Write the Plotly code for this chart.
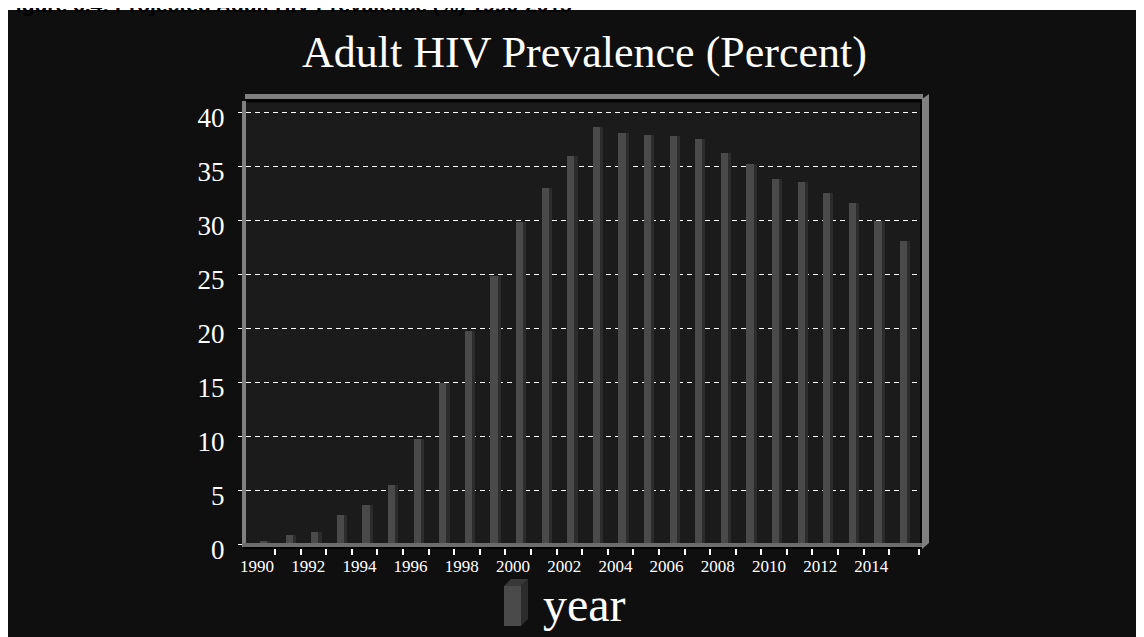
import plotly.graph_objects as go

# ---- data ----
years = list(range(1990, 2016))
prevalence = [0.3, 0.8, 1.1, 2.7, 3.6, 5.5, 9.7, 14.9, 19.7, 24.8,
              29.8, 33.0, 35.9, 38.6, 38.1, 37.9, 37.8, 37.5, 36.2, 35.2,
              33.8, 33.5, 32.5, 31.6, 29.9, 28.1]
tick_years = list(range(1990, 2015, 2))
tick_labels = [str(y) for y in tick_years]
y_ticks = [0, 5, 10, 15, 20, 25, 30, 35, 40]
chart_title = "Adult HIV Prevalence (Percent)"
page_caption = "Figure 6.4: Projected Adult HIV Prevalence (%) 1990-2015"
legend_label = "year"

# ---- geometry (page pixels; the page body has an 8px margin) ----
OFF = 8
W, H = 1144 - OFF, 637 - OFF
L, R, T, B = 246, 920, 103, 544  # plot area in page pixels


def px(x):
    return (x - L) / (R - L)


def py(y):
    return (B - y) / (B - T)


face_color = "#4a4a4a"
side_color = "#2c2c2c"
frame_color = "#808080"

fig = go.Figure()
fig.add_trace(go.Bar(x=years, y=prevalence, width=0.28, offset=0.12,
                     marker=dict(color=face_color, line=dict(width=0)),
                     showlegend=False, hoverinfo="x+y"))
fig.add_trace(go.Bar(x=years, y=prevalence, width=0.12, offset=0.40,
                     marker=dict(color=side_color, line=dict(width=0)),
                     showlegend=False, hoverinfo="skip"))


def rect(x0, x1, y0, y1, color):
    return dict(type="rect", xref="paper", yref="paper", x0=px(x0), x1=px(x1), y0=py(y0), y1=py(y1),
                fillcolor=color, line=dict(width=0), layer="above")


def poly(pts, color):
    path = "M " + " L ".join(f"{px(a)} {py(b)}" for a, b in pts) + " Z"
    return dict(type="path", xref="paper", yref="paper", path=path,
                fillcolor=color, line=dict(width=0), layer="above")


shapes = [
    # white page strip at the top
    rect(0, 1144, OFF, 10, "white"),
    # frame: left wall edge
    rect(242, 246, 101, 547, frame_color),
    # top edge
    rect(245, 923, 94, 99, frame_color),
    rect(246, 921, 99, 102, "#050505"),
    # right edge
    rect(920, 922, 101, 547, "#050505"),
    poly([(922, 99), (929, 94), (929, 543), (922, 549)], frame_color),
    # floor
    rect(243, 922, 543, 547, "#6c6c6c"),
    rect(243, 922, 547, 549, "#000000"),
    # legend icon (3D block)
    rect(504, 521, 586, 626, face_color),
    poly([(521, 586), (528, 579), (528, 619), (521, 626)], side_color),
    poly([(504, 586), (511, 579), (528, 579), (521, 586)], "#383838"),
]

annotations = [
    dict(text=f"<b>{page_caption}</b>", xref="paper", yref="paper", x=px(1), y=py(18),
         xanchor="left", yanchor="bottom", showarrow=False,
         font=dict(family="Liberation Sans, Arial", size=21, color="black")),
    dict(text=chart_title, xref="paper", yref="paper", x=px(584), y=py(52),
         xanchor="center", yanchor="middle", showarrow=False,
         font=dict(family="Liberation Serif, Times New Roman", size=44, color="white")),
    dict(text=legend_label, xref="paper", yref="paper", x=px(541), y=py(604),
         xanchor="left", yanchor="middle", showarrow=False,
         font=dict(family="Liberation Serif, Times New Roman", size=48, color="white")),
]

fig.update_layout(
    width=W, height=H,
    margin=dict(l=L - OFF, r=W + OFF - R, t=T - OFF, b=H + OFF - B, pad=0),
    paper_bgcolor="#0f0f0f",
    plot_bgcolor="#1b1b1b",
    barmode="overlay",
    bargap=0,
    showlegend=False,
    shapes=shapes,
    annotations=annotations,
    xaxis=dict(
        range=[1989.57, 2015.9],
        tickmode="array", tickvals=tick_years, ticktext=tick_labels,
        ticks="", showgrid=False, zeroline=False, showline=False,
        tickfont=dict(family="Liberation Serif, Times New Roman", size=17, color="white"),
        ticklabelstandoff=10,
        minor=dict(tickmode="array", tickvals=[y + 0.7 for y in years[:-1]] + [2015.85],
                   ticks="outside", ticklen=10, tickcolor="white", tickwidth=2, showgrid=False),
    ),
    yaxis=dict(
        range=[0, (B - T) / 10.8],
        tickmode="array", tickvals=y_ticks, ticktext=[str(v) for v in y_ticks],
        ticks="outside", ticklen=7, tickcolor="white", tickwidth=1,
        showgrid=True, gridcolor="white", gridwidth=1, griddash="5px,4px",
        zeroline=False, showline=False,
        tickfont=dict(family="Liberation Serif, Times New Roman", size=27, color="white"),
        ticklabelshift=6, ticklabelstandoff=8,
    ),
)

fig.write_html("out.html")
